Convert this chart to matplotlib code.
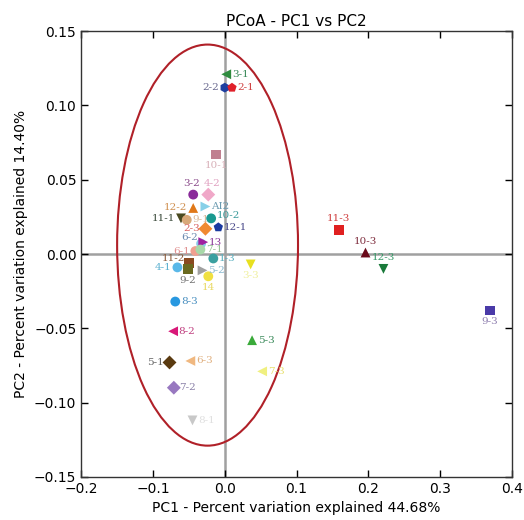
import matplotlib
matplotlib.use('Agg')
import matplotlib.pyplot as plt
from matplotlib.patches import Ellipse

# sample names and PCoA coordinates
samples = ['3-1', '2-2', '2-1', '10-1', '3-2', '4-2', '12-2', 'AI2', '11-1', '9-1',
           '10-2', '12-1', '2-3', '6-2', '13', '6-1', '7-1', '1-3', '11-2', '4-1',
           '9-2', '5-2', '14', '3-3', '8-3', '8-2', '5-1', '6-3', '7-2', '8-1',
           '5-3', '7-3', '11-3', '10-3', '12-3', '9-3']
pc1 = [0.002, 0.000, 0.010, -0.012, -0.044, -0.023, -0.044, -0.027, -0.061, -0.053,
       -0.019, -0.009, -0.027, -0.033, -0.030, -0.041, -0.034, -0.016, -0.050, -0.066,
       -0.051, -0.031, -0.023, 0.036, -0.069, -0.072, -0.077, -0.048, -0.071, -0.045,
       0.038, 0.052, 0.159, 0.196, 0.221, 0.369]
pc2 = [0.121, 0.112, 0.112, 0.067, 0.040, 0.040, 0.031, 0.032, 0.024, 0.023,
       0.024, 0.018, 0.017, 0.007, 0.008, 0.002, 0.003, -0.003, -0.006, -0.009,
       -0.010, -0.011, -0.015, -0.007, -0.032, -0.052, -0.073, -0.072, -0.090, -0.112,
       -0.058, -0.079, 0.016, 0.001, -0.010, -0.038]

# marker style per sample
markers = ['<', 'h', 'p', 's', 'o', 'D', '^', '>', 'v', 'o',
           'o', 'p', 'D', 'o', '>', 'o', 'o', 'o', 's', 'o',
           's', '>', 'o', 'v', 'o', '<', 'D', '<', 'D', 'v',
           '^', '<', 's', '^', 'v', 's']
colors = ['#2e8b3e', '#1f3f9f', '#e0202a', '#c08090', '#8a2a9a', '#f0a8c8', '#e07818', '#88d0e8', '#4a4a20', '#d8a878',
          '#1a9a90', '#1a3aa0', '#f08a30', '#88c8e8', '#a020a0', '#f0a090', '#a8d8a8', '#3aa0a0', '#8a4a20', '#5ab8e8',
          '#6a6a20', '#a0a0a0', '#f0e040', '#e8e020', '#2898e0', '#d81878', '#5a3a10', '#f0b880', '#9878c0', '#c8c8c8',
          '#3aaa3a', '#f0f080', '#e02020', '#6a0a1a', '#1a7a3a', '#4a3aa8']
label_colors = ['#3a8a5a', '#6a6a90', '#d04040', '#d8b0b8', '#8a4a8a', '#e0a0c0', '#d09050', '#6a9ab0', '#3a4a3a', '#d8b898',
                '#3a9a9a', '#4a4a8a', '#d86060', '#6a8ab0', '#8a3a9a', '#e09090', '#90c090', '#5ab0c0', '#8a5a3a', '#5ab0d0',
                '#707070', '#88b8d0', '#e8d860', '#f0f0a0', '#4a90c0', '#c04080', '#606060', '#e0b080', '#8a80a8', '#e0e0e0',
                '#3a8a5a', '#e8e070', '#d04040', '#803040', '#3a9a6a', '#9080b0']
# label placement: r right, l left, a above, b below, plus corner variants
label_pos = ['r', 'l', 'r', 'b', 'al2', 'ar2', 'l', 'r', 'l', 'r',
             'ar', 'r', 'l', 'al', 'r', 'l', 'r', 'r', 'bl', 'l',
             'b', 'r', 'b', 'b', 'r', 'r', 'l', 'r', 'r', 'r',
             'r', 'r', 'a', 'a', 'a', 'b']
offsets = {'r': ((4, 0), 'left', 'center'),
           'l': ((-4, 0), 'right', 'center'),
           'a': ((0, 5), 'center', 'bottom'),
           'b': ((0, -5), 'center', 'top'),
           'ar': ((4, -1), 'left', 'bottom'),
           'al': ((-2, 1), 'right', 'bottom'),
           'al2': ((-1, 5), 'center', 'bottom'),
           'ar2': ((3, 5), 'center', 'bottom'),
           'bl': ((-3, 3), 'right', 'center')}

fig = plt.figure(figsize=(5.24, 5.20), dpi=100)
ax = fig.add_axes([0.155, 0.083, 0.822, 0.857])

ax.axhline(0, color='#a0a0a0', lw=1.8, zorder=1)
ax.axvline(0, color='#a0a0a0', lw=1.8, zorder=1)

ell = Ellipse((-0.024, 0.006), 0.252, 0.270, fill=False, edgecolor='#b02028', lw=1.5, zorder=2)
ax.add_patch(ell)

for name, x, y, m, c, lc, pos in zip(samples, pc1, pc2, markers, colors, label_colors, label_pos):
    ax.scatter(x, y, marker=m, s=50, color=c, edgecolors='none', zorder=3)
    off, ha, va = offsets[pos]
    ax.annotate(name, (x, y), xytext=off, textcoords='offset points', ha=ha, va=va,
                fontsize=7.5, color=lc, family='DejaVu Serif', zorder=4)

ax.set_xlim(-0.2, 0.4)
ax.set_ylim(-0.15, 0.15)
ax.set_xticks([-0.2, -0.1, 0.0, 0.1, 0.2, 0.3, 0.4])
ax.set_yticks([-0.15, -0.10, -0.05, 0.0, 0.05, 0.10, 0.15])
ax.set_yticklabels(['\u22120.15', '\u22120.10', '\u22120.05', '0.00', '0.05', '0.10', '0.15'])
ax.set_xticklabels(['\u22120.2', '\u22120.1', '0.0', '0.1', '0.2', '0.3', '0.4'])
ax.tick_params(direction='in', top=True, right=True, length=5, width=1, labelsize=10)
for s in ax.spines.values():
    s.set_linewidth(1.0)
    s.set_color('#333333')

ax.set_title('PCoA - PC1 vs PC2', fontsize=11, pad=4)
ax.set_xlabel('PC1 - Percent variation explained 44.68%', fontsize=10)
ax.set_ylabel('PC2 - Percent variation explained 14.40%', fontsize=10)

fig.savefig('out.png', dpi=100)
